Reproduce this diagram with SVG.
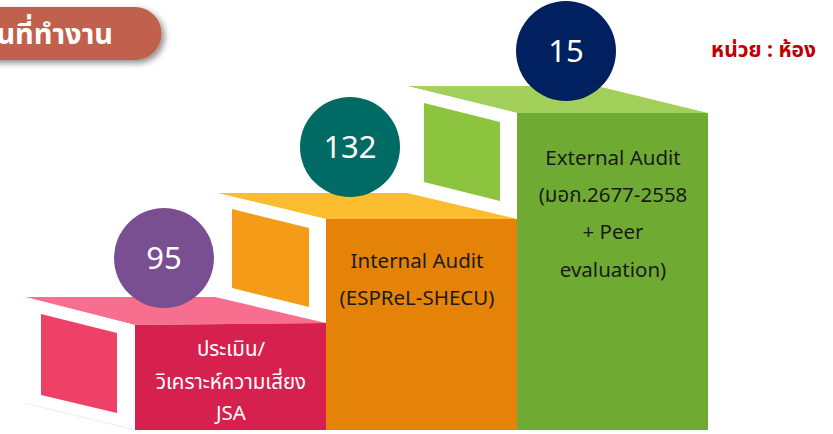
<svg xmlns="http://www.w3.org/2000/svg" width="833" height="434" viewBox="0 0 833 434">
<defs>
<filter id="sh" x="-20%" y="-30%" width="150%" height="180%">
<feGaussianBlur in="SourceAlpha" stdDeviation="3"/>
<feOffset dx="3" dy="3"/>
<feComponentTransfer><feFuncA type="linear" slope="0.45"/></feComponentTransfer>
<feMerge><feMergeNode/><feMergeNode in="SourceGraphic"/></feMerge>
</filter>
</defs>
<style>
.th{font-family:"Noto Sans Thai","Noto Sans","Liberation Sans",sans-serif}
.num{font-family:"Noto Sans","Liberation Sans",sans-serif;font-size:31px;fill:#fff;text-anchor:middle}
.lbl{font-size:20.5px;text-anchor:middle}
.dark{fill:#1a1a1a}
.white{fill:#fff}
.side{fill:#fff}
</style>
<rect width="833" height="434" fill="#fff"/>
<g id="title">
<path d="M-20,7 H135 A26.5,26.5 0 0 1 135,60 H-20 Z" fill="#C0604D" filter="url(#sh)"/>
<text x="113" y="44" class="th" font-size="29" font-weight="bold" fill="#fff" text-anchor="end">นที่ทำงาน</text>
</g>
<g id="unit">
<text x="816" y="57" class="th" font-size="21" font-weight="bold" fill="#C00000" text-anchor="end">หน่วย : ห้อง</text>
</g>
<g id="step-green">
<polygon points="407,86 597,86 708,113 517,113" fill="#A2D05A"/>
<polygon points="407,86 517,113 517,430 407,403" class="side"/>
<polygon points="424,103 500,122 500,201 424,182" fill="#8DC43F"/>
<rect x="517" y="113" width="191" height="317" fill="#6FAB33"/>
<text class="th lbl dark" x="613" y="165">External Audit</text>
<text class="th lbl dark" x="613" y="202">(มอก.2677-2558</text>
<text class="th lbl dark" x="613" y="239">+ Peer</text>
<text class="th lbl dark" x="613" y="277">evaluation)</text>
</g>
<g id="step-orange">
<polygon points="217,193 407,193 517,219 326,219" fill="#FBBD2E"/>
<polygon points="217,193 326,219 326,430 217,403" class="side"/>
<polygon points="232,209 309,228 309,307 232,288" fill="#F49C17"/>
<rect x="326" y="219" width="191" height="211" fill="#E58308"/>
<text class="th lbl dark" x="417" y="268">Internal Audit</text>
<text class="th lbl dark" x="417" y="305">(ESPReL-SHECU)</text>
</g>
<g id="step-red">
<polygon points="25,297 215,297 326,323 135,325" fill="#F86E8E"/>
<polygon points="25,297 135,325 135,430 25,403" class="side"/>
<line x1="25" y1="403" x2="135" y2="430" stroke="#eee" stroke-width="1"/>
<polygon points="41,314 117,333 117,413 41,395" fill="#EE4167"/>
<polygon points="135,325 326,323 326,430 135,430" fill="#D6204E"/>
<text class="th lbl white" x="231" y="356">ประเมิน/</text>
<text class="th lbl white" x="231" y="389">วิเคราะห์ความเสี่ยง</text>
<text class="th lbl white" x="231" y="420">JSA</text>
</g>
<g id="circle-95">
<circle cx="164" cy="258" r="50" fill="#7A4F92"/>
<text class="num" x="164" y="269">95</text>
</g>
<g id="circle-132">
<circle cx="350" cy="147" r="50" fill="#006A65"/>
<text class="num" x="350" y="158">132</text>
</g>
<g id="circle-15">
<circle cx="566" cy="51" r="50" fill="#002060"/>
<text class="num" x="566" y="62">15</text>
</g>
<g id="connectors"/>
</svg>
